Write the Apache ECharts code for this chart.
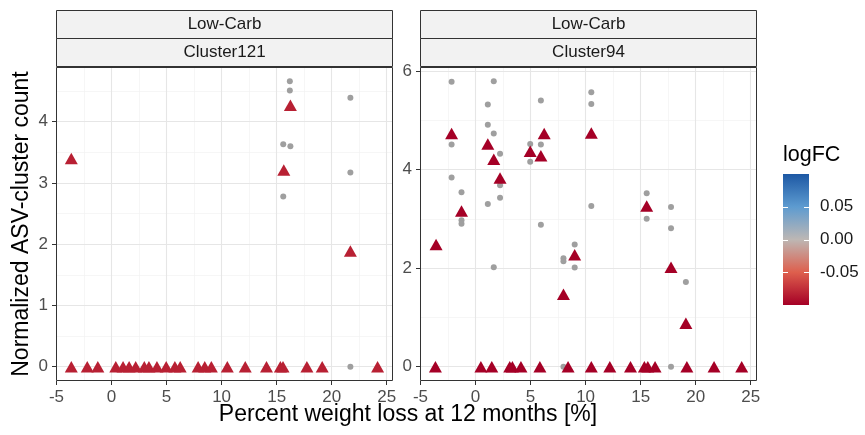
<!DOCTYPE html>
<html><head><meta charset="utf-8">
<script src="https://cdn.jsdelivr.net/npm/echarts@6/dist/echarts.min.js"></script>
<style>html,body{margin:0;padding:0;background:#fff}#c{width:865px;height:435px}</style>
</head><body><div id="c"></div>
<script>
// ---------- data ----------
const dietLabel = 'Low-Carb';
const panelLabels = ['Cluster121', 'Cluster94'];
const xTitle = 'Percent weight loss at 12 months [%]';
const yTitle = 'Normalized ASV-cluster count';
const legendTitle = 'logFC';

const xTicks = [-5, 0, 5, 10, 15, 20, 25];
const xMinor = [-2.5, 2.5, 7.5, 12.5, 17.5, 22.5];
const yTicks121 = [0, 1, 2, 3, 4];
const yMinor121 = [0.5, 1.5, 2.5, 3.5, 4.5];
const yTicks94 = [0, 2, 4, 6];
const yMinor94 = [1, 3, 5];
const legendTicks = [0.05, 0, -0.05];
const legendTickLabels = ['0.05', '0.00', '-0.05'];

// Cluster121: individual samples (grey dots)
const c121SampleX = [16.2, 16.2, 21.7, 15.6, 16.25, 21.7, 15.6, 21.7];
const c121SampleY = [4.66, 4.51, 4.39, 3.63, 3.60, 3.17, 2.78, 0];
// Cluster121: participant means (triangles)
const c121MeanX = [-3.65, 16.25, 15.65, 21.7,
  -3.65, -2.2, -1.24, 0.39, 1.05, 1.6, 2.2, 2.98, 3.4, 4.13, 4.97, 5.76, 6.24,
  7.87, 8.47, 9.07, 10.52, 12.15, 14.08, 15.34, 15.58, 17.75, 19.14, 24.17];
const c121MeanY = [3.40, 4.27, 3.21, 1.89,
  0, 0, 0, 0, 0, 0, 0, 0, 0, 0, 0, 0, 0,
  0, 0, 0, 0, 0, 0, 0, 0, 0, 0, 0];
const c121LogFC = -0.083;

// Cluster94: individual samples (grey dots)
const c94SampleX = [-2.17, -2.17, -2.17, -1.27, -1.27, -1.27, 1.66, 1.12, 1.12, 1.66, 2.23, 2.23, 2.23, 1.12, 1.66,
  4.97, 4.97, 5.94, 5.94, 5.94, 7.99, 7.99, 7.99, 9.01, 9.01, 10.52, 10.52, 10.52,
  15.55, 15.55, 17.76, 17.76, 17.76, 19.11];
const c94SampleY = [5.78, 4.51, 3.84, 3.54, 2.97, 2.90, 5.79, 5.32, 4.91, 4.73, 4.32, 3.68, 3.43, 3.30, 2.02,
  4.52, 4.16, 5.40, 4.51, 2.88, 2.20, 2.14, 0, 2.48, 2.01, 5.57, 5.33, 3.26,
  3.52, 3.00, 3.24, 2.81, 0, 1.72];
// Cluster94: participant means (triangles)
const c94MeanX = [-3.58, -2.17, -1.27, 1.12, 1.66, 2.23, 4.97, 5.94, 6.24, 7.99, 9.01, 10.52, 15.55, 17.76, 19.11,
  -3.64, 0.49, 1.48, 3.11, 3.35, 4.13, 5.85, 8.41, 10.52, 12.2, 14.08, 15.34, 15.65, 16.31, 19.2, 21.67, 24.18];
const c94MeanY = [2.48, 4.73, 3.16, 4.52, 4.21, 3.83, 4.37, 4.28, 4.73, 1.47, 2.27, 4.74, 3.26, 2.02, 0.88,
  0, 0, 0, 0, 0, 0, 0, 0, 0, 0, 0, 0, 0, 0, 0, 0, 0];
const c94LogFC = -0.1;

const palette = ['#a50026', '#de5f4d', '#bdb7b4', '#5d9bd0', '#1d58a4'];
const logFCRange = [-0.1, 0.1];

// ---------- chart ----------
const FONT = '"Liberation Sans", Arial, Helvetica, sans-serif';
const pair = (xs, ys) => xs.map((x, i) => [x, ys[i]]);
const triple = (xs, ys, v) => xs.map((x, i) => [x, ys[i], v]);

const panelBoxes = [{left: 56, top: 67, width: 337, height: 314}, {left: 420, top: 67, width: 337, height: 314}];
const xRange = [-5.04, 25.57];
const yRanges = [[-0.233, 4.893], [-0.29, 6.08]];
const yMajors = [yTicks121, yTicks94];
const yMinors = [yMinor121, yMinor94];

const majorLine = {show: true, lineStyle: {color: '#e6e6e6', width: 1.1}};
const minorLine = {show: true, lineStyle: {color: '#f2f2f2', width: 0.7}};
const tickStyle = {color: '#333333', width: 1};

const xAxis = [], yAxis = [];
panelBoxes.forEach((b, i) => {
  xAxis.push({type: 'value', gridIndex: i, min: xRange[0], max: xRange[1], position: 'bottom',
    axisLine: {show: false, onZero: false},
    axisTick: {show: true, length: 4, lineStyle: tickStyle, customValues: xTicks},
    axisLabel: {show: true, customValues: xTicks, color: '#4d4d4d', fontSize: 17, fontFamily: FONT, margin: 8},
    splitLine: majorLine, z: 1});
  yAxis.push({type: 'value', gridIndex: i, min: yRanges[i][0], max: yRanges[i][1], position: 'left',
    axisLine: {show: false, onZero: false},
    axisTick: {show: true, length: 4, lineStyle: tickStyle, customValues: yMajors[i]},
    axisLabel: {show: true, customValues: yMajors[i], color: '#4d4d4d', fontSize: 17, fontFamily: FONT, margin: 8},
    splitLine: majorLine, z: 1});
});
panelBoxes.forEach((b, i) => {
  xAxis.push({type: 'value', gridIndex: i, min: xRange[0], max: xRange[1], position: 'top',
    axisLine: {show: false, onZero: false},
    axisTick: {show: false, customValues: xMinor},
    axisLabel: {show: false, customValues: xMinor},
    splitLine: minorLine, z: 0});
  yAxis.push({type: 'value', gridIndex: i, min: yRanges[i][0], max: yRanges[i][1], position: 'right',
    axisLine: {show: false, onZero: false},
    axisTick: {show: false, customValues: yMinors[i]},
    axisLabel: {show: false, customValues: yMinors[i]},
    splitLine: minorLine, z: 0});
});

const series = [
  {type: 'scatter', xAxisIndex: 0, yAxisIndex: 0, data: pair(c121SampleX, c121SampleY),
    symbol: 'circle', symbolSize: 6, itemStyle: {color: '#9f9f9f', opacity: 1}, z: 3, silent: true},
  {type: 'scatter', xAxisIndex: 1, yAxisIndex: 1, data: pair(c94SampleX, c94SampleY),
    symbol: 'circle', symbolSize: 6, itemStyle: {color: '#9f9f9f', opacity: 1}, z: 3, silent: true},
  {type: 'scatter', xAxisIndex: 0, yAxisIndex: 0, data: triple(c121MeanX, c121MeanY, c121LogFC),
    symbol: 'triangle', symbolSize: [13, 11.5], itemStyle: {opacity: 1}, z: 4, silent: true},
  {type: 'scatter', xAxisIndex: 1, yAxisIndex: 1, data: triple(c94MeanX, c94MeanY, c94LogFC),
    symbol: 'triangle', symbolSize: [13, 11.5], itemStyle: {opacity: 1}, z: 4, silent: true}
];

// graphics: strips, titles, colourbar legend
const graphic = [];
panelBoxes.forEach((b, i) => {
  const cx = b.left + b.width / 2;
  graphic.push({type: 'rect', shape: {x: b.left + 0.5, y: 10.5, width: b.width - 1, height: 28},
    style: {fill: '#f2f2f2', stroke: '#333333', lineWidth: 1}, z: 10});
  graphic.push({type: 'rect', shape: {x: b.left + 0.5, y: 38.5, width: b.width - 1, height: 28},
    style: {fill: '#f2f2f2', stroke: '#333333', lineWidth: 1}, z: 10});
  graphic.push({type: 'text', x: cx, y: 24.5, z: 11,
    style: {text: dietLabel, fill: '#1a1a1a', fontSize: 17, fontFamily: FONT, align: 'center', verticalAlign: 'middle'}});
  graphic.push({type: 'text', x: cx, y: 52.8, z: 11,
    style: {text: panelLabels[i], fill: '#1a1a1a', fontSize: 17, fontFamily: FONT, align: 'center', verticalAlign: 'middle'}});
  graphic.push({type: 'rect', shape: {x: b.left + 0.5, y: b.top + 0.5, width: b.width - 1, height: b.height - 1},
    style: {fill: 'none', stroke: '#333333', lineWidth: 1}, z: 10});
});
graphic.push({type: 'text', x: 408, y: 415, z: 11,
  style: {text: xTitle, fill: '#000', fontSize: 23, fontFamily: FONT, align: 'center', verticalAlign: 'middle'}});
graphic.push({type: 'text', x: 22, y: 224, rotation: Math.PI / 2, z: 11,
  style: {text: yTitle, fill: '#000', fontSize: 23, fontFamily: FONT, align: 'center', verticalAlign: 'middle'}});

const bar = {x: 783, y: 174, w: 26, h: 131};
const vToY = v => bar.y + (logFCRange[1] - v) / (logFCRange[1] - logFCRange[0]) * bar.h;
graphic.push({type: 'text', x: 783, y: 155, z: 11,
  style: {text: legendTitle, fill: '#000', fontSize: 21.5, fontFamily: FONT, align: 'left', verticalAlign: 'middle'}});
graphic.push({type: 'rect', shape: {x: bar.x, y: bar.y, width: bar.w, height: bar.h}, z: 10,
  style: {fill: {type: 'linear', x: 0, y: 1, x2: 0, y2: 0,
    colorStops: palette.map((c, i) => ({offset: i / (palette.length - 1), color: c}))}}});
legendTicks.forEach((v, i) => {
  const y = Math.round(vToY(v)) + 0.5;
  graphic.push({type: 'line', z: 11, shape: {x1: bar.x, y1: y, x2: bar.x + 5, y2: y}, style: {stroke: '#ffffff', lineWidth: 1}});
  graphic.push({type: 'line', z: 11, shape: {x1: bar.x + bar.w - 5, y1: y, x2: bar.x + bar.w, y2: y}, style: {stroke: '#ffffff', lineWidth: 1}});
  graphic.push({type: 'text', x: 820, y: vToY(v), z: 11,
    style: {text: legendTickLabels[i], fill: '#1a1a1a', fontSize: 17, fontFamily: FONT, align: 'left', verticalAlign: 'middle'}});
});

const chart = echarts.init(document.getElementById('c'), null, {renderer: 'canvas'});
chart.setOption({
  animation: false,
  backgroundColor: '#ffffff',
  textStyle: {fontFamily: FONT},
  grid: panelBoxes.map(b => ({left: b.left, top: b.top, width: b.width, height: b.height, show: false, containLabel: false})),
  xAxis, yAxis,
  visualMap: {type: 'continuous', show: false, min: logFCRange[0], max: logFCRange[1], dimension: 2,
    seriesIndex: [2, 3], inRange: {color: palette}},
  series,
  graphic
});
</script>
</body></html>
